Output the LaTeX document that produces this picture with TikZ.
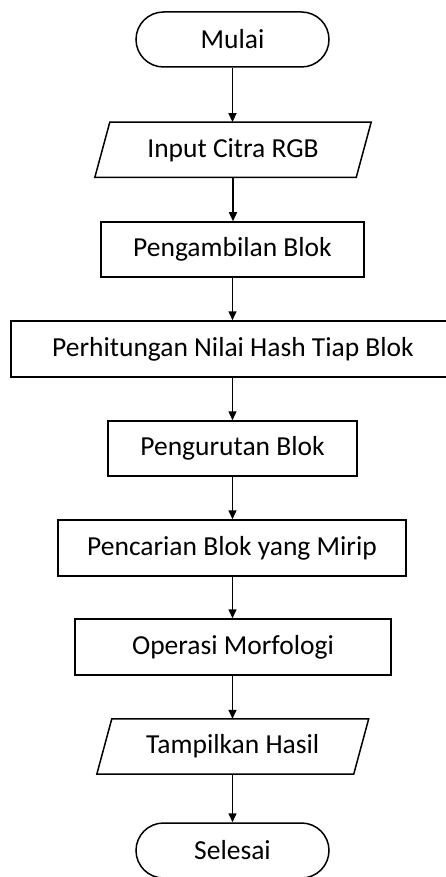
\documentclass[tikz,border=0pt]{standalone}
\usepackage{fontspec}
\setmainfont{Carlito}
\usetikzlibrary{arrows.meta}
\begin{document}
\begin{tikzpicture}[x=1pt,y=-1pt,
  every node/.style={font=\fontsize{27.5}{33}\selectfont, inner sep=0pt, text=black},
  procbox/.style={draw, line width=1.5pt, minimum height=55pt},
  termbox/.style={draw, line width=1.5pt, minimum height=55pt, minimum width=193pt, rounded corners=27.5pt},
  iobox/.style={minimum height=55pt},
  flow/.style={line width=1.5pt, -{Triangle[length=9pt,width=8pt]}},
  ioline/.style={line width=1.5pt, line join=miter}
]
\useasboundingbox (0,0) rectangle (445,877);
\node[termbox] (mulai) at (232.5,39.5) {Mulai};
\node[iobox, minimum width=261pt] (input) at (233,149.8) {Input Citra RGB};
\draw[ioline] ([xshift=7.5pt]input.north west) -- ([xshift=7.5pt]input.north east) -- ([xshift=-7.5pt]input.south east) -- ([xshift=-7.5pt]input.south west) -- cycle;
\node[procbox, minimum width=263pt] (ambil) at (232.5,249.5) {Pengambilan Blok};
\node[procbox, minimum width=444pt, minimum height=56pt] (hitung) at (233,349) {Perhitungan Nilai Hash Tiap Blok};
\node[procbox, minimum width=249pt] (urut) at (232.5,448.5) {Pengurutan Blok};
\node[procbox, minimum width=348pt, minimum height=56pt] (cari) at (232,548) {Pencarian Blok yang Mirip};
\node[procbox, minimum width=316pt, minimum height=56pt] (morf) at (233,647) {Operasi Morfologi};
\node[iobox, minimum width=256.5pt] (tampil) at (232.75,746.5) {Tampilkan Hasil};
\draw[ioline] ([xshift=7.5pt]tampil.north west) -- ([xshift=7.5pt]tampil.north east) -- ([xshift=-7.5pt]tampil.south east) -- ([xshift=-7.5pt]tampil.south west) -- cycle;
\node[termbox] (selesai) at (232.5,850.5) {Selesai};
\draw[flow] (mulai.south) -- (mulai.south |- input.north);
\draw[flow] (input.south) -- (input.south |- ambil.north);
\draw[flow] (ambil.south) -- (ambil.south |- hitung.north);
\draw[flow] (ambil.south |- hitung.south) -- (ambil.south |- urut.north);
\draw[flow] (urut.south) -- (urut.south |- cari.north);
\draw[flow] (urut.south |- cari.south) -- (urut.south |- morf.north);
\draw[flow] (urut.south |- morf.south) -- (urut.south |- tampil.north);
\draw[flow] (tampil.south -| urut.south) -- (selesai.north);
\end{tikzpicture}
\end{document}
